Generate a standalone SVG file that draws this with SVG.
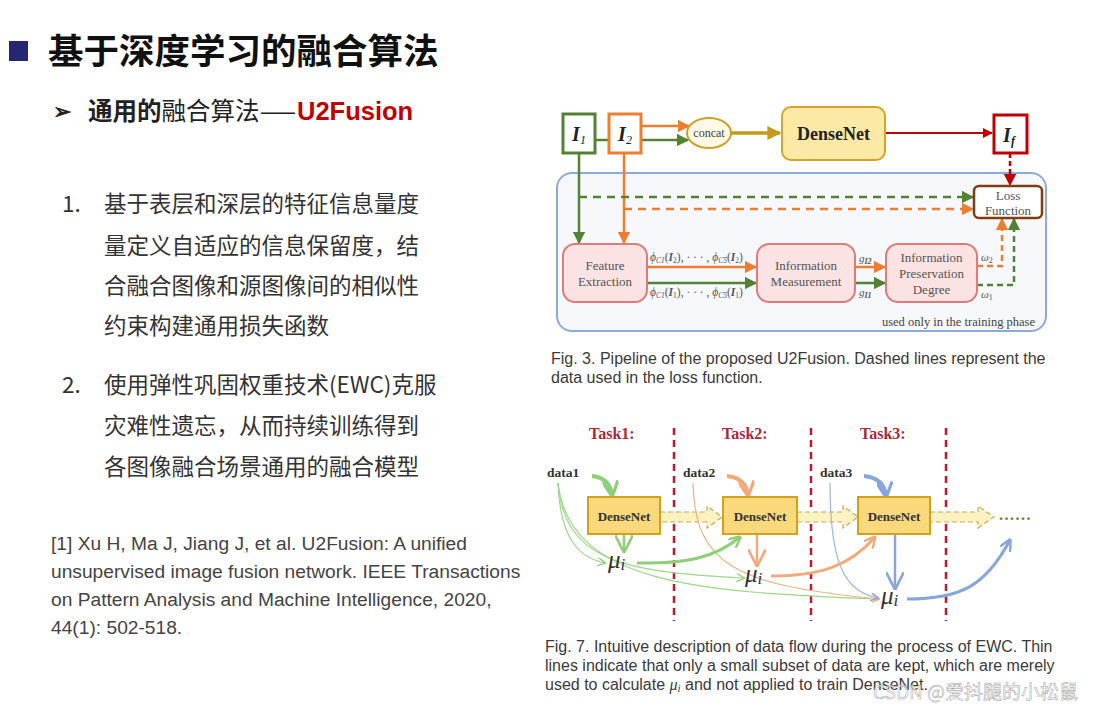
<svg xmlns="http://www.w3.org/2000/svg" width="1100" height="712" viewBox="0 0 1100 712">
<style>
.cjk{font-family:"Noto Sans CJK SC","Liberation Sans",sans-serif}
.sans{font-family:"Liberation Sans","Noto Sans CJK SC",sans-serif}
.serif{font-family:"Liberation Serif",serif}
.body{font-size:22.5px;fill:#333}
.ref{font-size:19.2px;fill:#444}
.cap{font-size:16px;fill:#3a3a3a}
.boxlbl{font-size:13px;fill:#555;text-anchor:middle}
.pink{fill:#fbe3e3;stroke:#e07b7b;stroke-width:2}
.dn{fill:#f9d97c;stroke:#d4a21a;stroke-width:2}
.task{font-size:16px;font-weight:bold;fill:#a8283a}
.data{font-size:13.5px;font-weight:bold;fill:#333}
.mu{font-size:25px;font-style:italic;fill:#333}
.vdash{stroke:#c0182f;stroke-width:2.5;stroke-dasharray:7,5;fill:none}
.fat{fill:#fdf2c2;stroke:#c8aa55;stroke-width:1.2;stroke-dasharray:5,3}
.sub{font-size:7.5px}
</style>
<defs>
<marker id="aG" viewBox="0 0 10 10" refX="9" refY="5" markerWidth="5" markerHeight="5" orient="auto"><path d="M0,0L10,5L0,10z" fill="#548235"/></marker>
<marker id="aO" viewBox="0 0 10 10" refX="9" refY="5" markerWidth="5" markerHeight="5" orient="auto"><path d="M0,0L10,5L0,10z" fill="#ed7d31"/></marker>
<marker id="aR" viewBox="0 0 10 10" refX="9" refY="5" markerWidth="5" markerHeight="5" orient="auto"><path d="M0,0L10,5L0,10z" fill="#c00000"/></marker>
<marker id="aY" viewBox="0 0 10 10" refX="9" refY="5" markerWidth="4" markerHeight="4" orient="auto"><path d="M0,0L10,5L0,10z" fill="#c49a1c"/></marker>
<marker id="aLG" viewBox="0 0 10 10" refX="9" refY="5" markerWidth="4" markerHeight="4" orient="auto"><path d="M0,0L10,5L0,10" fill="none" stroke="#8fcf78" stroke-width="2"/></marker>
<marker id="aLGt" viewBox="0 0 10 10" refX="9" refY="5" markerWidth="7" markerHeight="7" orient="auto"><path d="M0,0L10,5L0,10" fill="none" stroke="#8fcf78" stroke-width="1.5"/></marker>
<marker id="aLO" viewBox="0 0 10 10" refX="9" refY="5" markerWidth="4" markerHeight="4" orient="auto"><path d="M0,0L10,5L0,10" fill="none" stroke="#f2aa7a" stroke-width="2"/></marker>
<marker id="aLOt" viewBox="0 0 10 10" refX="9" refY="5" markerWidth="7" markerHeight="7" orient="auto"><path d="M0,0L10,5L0,10" fill="none" stroke="#f2aa7a" stroke-width="1.5"/></marker>
<marker id="aB" viewBox="0 0 10 10" refX="9" refY="5" markerWidth="4" markerHeight="4" orient="auto"><path d="M0,0L10,5L0,10" fill="none" stroke="#86a6dc" stroke-width="2"/></marker>
<marker id="aBt" viewBox="0 0 10 10" refX="9" refY="5" markerWidth="7" markerHeight="7" orient="auto"><path d="M0,0L10,5L0,10" fill="none" stroke="#86a6dc" stroke-width="1.5"/></marker>
</defs>
<rect width="1100" height="712" fill="#ffffff"/>

<!-- Left text -->
<g id="title">
<rect x="9" y="41" width="19" height="20" fill="#262673"/>
<text x="48" y="64" class="cjk" font-size="35.5" font-weight="bold" fill="#111">基于深度学习的融合算法</text>
</g>
<g id="subtitle">
<text x="53" y="119" class="cjk" font-size="22" font-weight="bold" fill="#222">➢</text>
<text x="88" y="120" class="cjk" font-size="24.5" fill="#222"><tspan font-weight="bold">通用的</tspan>融合算法</text>
<text x="259" y="120" class="cjk" font-size="24.5" fill="#222" textLength="38" lengthAdjust="spacingAndGlyphs">—</text>
<text x="297" y="120" class="sans" font-size="25.5" font-weight="bold" fill="#c00000">U2Fusion</text>
</g>
<g id="list" class="cjk body">
<text x="62" y="212">1.</text>
<text x="104" y="212">基于表层和深层的特征信息量度</text>
<text x="104" y="254">量定义自适应的信息保留度，结</text>
<text x="104" y="294">合融合图像和源图像间的相似性</text>
<text x="104" y="334">约束构建通用损失函数</text>
<text x="62" y="393">2.</text>
<text x="104" y="393">使用弹性巩固权重技术(EWC)克服</text>
<text x="104" y="434">灾难性遗忘，从而持续训练得到</text>
<text x="104" y="475">各图像融合场景通用的融合模型</text>
</g>
<g id="reference" class="sans ref">
<text x="51" y="550">[1] Xu H, Ma J, Jiang J, et al. U2Fusion: A unified</text>
<text x="51" y="578">unsupervised image fusion network. IEEE Transactions</text>
<text x="51" y="606">on Pattern Analysis and Machine Intelligence, 2020,</text>
<text x="51" y="634">44(1): 502-518.</text>
</g>

<!-- Fig 3 -->
<g id="container">
<rect x="557" y="173" width="489" height="158" rx="15" fill="#f6f8fc" stroke="#8eaadb" stroke-width="2"/>
<text x="1035" y="326" class="serif" font-size="12.5" fill="#444" text-anchor="end">used only in the training phase</text>
</g>
<g id="fig3-connectors" fill="none">
<path d="M595,140 L688,140" stroke="#548235" stroke-width="2.5" marker-end="url(#aG)"/>
<path d="M641,126 L689,126" stroke="#ed7d31" stroke-width="2.5" marker-end="url(#aO)"/>
<path d="M731,133 L780,133" stroke="#c49a1c" stroke-width="3.5" marker-end="url(#aY)"/>
<path d="M885,133 L992,133" stroke="#c00000" stroke-width="2" marker-end="url(#aR)"/>
<path d="M1010,153 L1010,185" stroke="#c00000" stroke-width="2.5" stroke-dasharray="5,3" marker-end="url(#aR)"/>
<path d="M579,153 L579,243" stroke="#548235" stroke-width="2.5" marker-end="url(#aG)"/>
<path d="M624,153 L624,243" stroke="#ed7d31" stroke-width="2.5" marker-end="url(#aO)"/>
<path d="M579,197 L973,197" stroke="#548235" stroke-width="2.5" stroke-dasharray="8,6" marker-end="url(#aG)"/>
<path d="M624,209 L973,209" stroke="#ed7d31" stroke-width="2.5" stroke-dasharray="8,6" marker-end="url(#aO)"/>
<path d="M647,267 L756,267" stroke="#ed7d31" stroke-width="2.5" marker-end="url(#aO)"/>
<path d="M647,283 L756,283" stroke="#548235" stroke-width="2.5" marker-end="url(#aG)"/>
<path d="M855,267 L885,267" stroke="#ed7d31" stroke-width="2.5" marker-end="url(#aO)"/>
<path d="M855,283 L885,283" stroke="#548235" stroke-width="2.5" marker-end="url(#aG)"/>
<path d="M977,266 L1002,266 L1002,219" stroke="#ed7d31" stroke-width="2.5" stroke-dasharray="6,4" marker-end="url(#aO)"/>
<path d="M977,285 L1014,285 L1014,219" stroke="#548235" stroke-width="2.5" stroke-dasharray="6,4" marker-end="url(#aG)"/>
</g>
<g id="I1">
<rect x="563" y="114" width="32" height="39" fill="#fff" stroke="#548235" stroke-width="3"/>
<text x="579" y="141" class="serif" font-size="20" font-weight="bold" font-style="italic" fill="#222" text-anchor="middle">I<tspan font-size="12" dy="3" font-weight="normal">1</tspan></text>
</g>
<g id="I2">
<rect x="609" y="114" width="32" height="39" fill="#fff" stroke="#ed7d31" stroke-width="3"/>
<text x="625" y="141" class="serif" font-size="20" font-weight="bold" font-style="italic" fill="#222" text-anchor="middle">I<tspan font-size="12" dy="3" font-weight="normal">2</tspan></text>
</g>
<g id="concat">
<ellipse cx="709" cy="133" rx="22" ry="15" fill="#fff9e6" stroke="#c9a227" stroke-width="2"/>
<text x="709" y="137" class="serif" font-size="12" fill="#444" text-anchor="middle">concat</text>
</g>
<g id="densenet-main">
<rect x="782" y="107" width="103" height="53" rx="9" fill="#fde9a6" stroke="#d4a52a" stroke-width="2"/>
<text x="833.5" y="140" class="serif" font-size="18" font-weight="bold" fill="#222" text-anchor="middle">DenseNet</text>
</g>
<g id="If">
<rect x="994" y="115" width="33" height="38" fill="#fff" stroke="#c00000" stroke-width="3"/>
<text x="1009" y="142" class="serif" font-size="20" font-weight="bold" font-style="italic" fill="#222" text-anchor="middle">I<tspan font-size="12" dy="3">f</tspan></text>
</g>
<g id="loss">
<rect x="974" y="186" width="68" height="32" rx="5" fill="#fff" stroke="#843c0c" stroke-width="2.5"/>
<text x="1008" y="200" class="serif boxlbl" font-size="12">Loss</text>
<text x="1008" y="215" class="serif boxlbl" font-size="12">Function</text>
</g>
<g id="feature-extraction">
<rect x="563" y="244" width="84" height="58" rx="12" class="pink"/>
<text x="605" y="270" class="serif boxlbl">Feature</text>
<text x="605" y="286" class="serif boxlbl">Extraction</text>
</g>
<g id="information-measurement">
<rect x="757" y="244" width="98" height="58" rx="12" class="pink"/>
<text x="806" y="270" class="serif boxlbl">Information</text>
<text x="806" y="286" class="serif boxlbl">Measurement</text>
</g>
<g id="information-preservation">
<rect x="886" y="244" width="91" height="58" rx="12" class="pink"/>
<text x="931.5" y="262" class="serif boxlbl">Information</text>
<text x="931.5" y="278" class="serif boxlbl">Preservation</text>
<text x="931.5" y="294" class="serif boxlbl">Degree</text>
</g>
<g id="fig3-labels" class="serif" fill="#555">
<text x="650" y="261" font-size="11.5" font-style="italic">ϕ<tspan class="sub" dy="2">C1</tspan><tspan dy="-2" font-style="normal">(</tspan><tspan font-weight="bold">I</tspan><tspan class="sub" dy="2" font-style="normal">2</tspan><tspan dy="-2" font-style="normal">), · · · , </tspan>ϕ<tspan class="sub" dy="2">C5</tspan><tspan dy="-2" font-style="normal">(</tspan><tspan font-weight="bold">I</tspan><tspan class="sub" dy="2" font-style="normal">2</tspan><tspan dy="-2" font-style="normal">)</tspan></text>
<text x="650" y="296" font-size="11.5" font-style="italic">ϕ<tspan class="sub" dy="2">C1</tspan><tspan dy="-2" font-style="normal">(</tspan><tspan font-weight="bold">I</tspan><tspan class="sub" dy="2" font-style="normal">1</tspan><tspan dy="-2" font-style="normal">), · · · , </tspan>ϕ<tspan class="sub" dy="2">C5</tspan><tspan dy="-2" font-style="normal">(</tspan><tspan font-weight="bold">I</tspan><tspan class="sub" dy="2" font-style="normal">1</tspan><tspan dy="-2" font-style="normal">)</tspan></text>
<text x="859" y="262" font-size="11" font-style="italic">g<tspan font-size="8" dy="2" font-weight="bold">I2</tspan></text>
<text x="859" y="296" font-size="11" font-style="italic">g<tspan font-size="8" dy="2" font-weight="bold">I1</tspan></text>
<text x="981" y="261" font-size="11" font-style="italic">ω<tspan font-size="8" dy="2" font-style="normal">2</tspan></text>
<text x="981" y="298" font-size="11" font-style="italic">ω<tspan font-size="8" dy="2" font-style="normal">1</tspan></text>
</g>
<g id="fig3-caption" class="sans cap">
<text x="551" y="364">Fig. 3. Pipeline of the proposed U2Fusion. Dashed lines represent the</text>
<text x="551" y="383">data used in the loss function.</text>
</g>

<!-- Fig 7 -->
<g id="fig7-dividers">
<line x1="674" y1="428" x2="674" y2="621" class="vdash"/>
<line x1="811" y1="428" x2="811" y2="621" class="vdash"/>
<line x1="946" y1="428" x2="946" y2="621" class="vdash"/>
</g>
<g id="fig7-labels" class="serif">
<text x="589" y="439" class="task">Task1:</text>
<text x="722" y="439" class="task">Task2:</text>
<text x="860" y="439" class="task">Task3:</text>
<text x="547" y="477" class="data">data1</text>
<text x="683" y="477" class="data">data2</text>
<text x="820" y="477" class="data">data3</text>
</g>
<g id="fig7-fat-arrows">
<path d="M660,512 L707,512 L707,506 L722,517 L707,528 L707,522 L660,522 Z" class="fat"/>
<path d="M797,512 L843,512 L843,506 L858,517 L843,528 L843,522 L797,522 Z" class="fat"/>
<path d="M930,512 L978,512 L978,506 L994,517 L978,528 L978,522 L930,522 Z" class="fat"/>
<text x="999" y="520" class="serif" font-size="16" font-weight="bold" fill="#7d7025" letter-spacing="1.5">......</text>
</g>
<g id="fig7-connectors" fill="none">
<path d="M558,483 C560,540 580,558 605,563" stroke="#9dd78a" stroke-width="1.2" marker-end="url(#aLGt)"/>
<path d="M558,483 C565,560 620,572 744,578" stroke="#9dd78a" stroke-width="1.2" marker-end="url(#aLGt)"/>
<path d="M558,483 C570,585 700,592 879,599" stroke="#9dd78a" stroke-width="1.2"/>
<path d="M693,483 C695,565 735,585 879,599" stroke="#f4b183" stroke-width="1.2" marker-end="url(#aLOt)"/>
<path d="M830,483 C830,565 845,592 878,598" stroke="#9cb5e2" stroke-width="1.2" marker-end="url(#aBt)"/>
<path d="M592,476 Q610,478 612,495" stroke="#8fcf78" stroke-width="4" marker-end="url(#aLG)"/>
<path d="M624,535 L624,551" stroke="#8fcf78" stroke-width="2.5" marker-end="url(#aLGt)"/>
<path d="M637,563 C685,564 715,558 740,537" stroke="#8fcf78" stroke-width="3" marker-end="url(#aLG)"/>
<path d="M727,476 Q746,478 748,495" stroke="#f2aa7a" stroke-width="4" marker-end="url(#aLO)"/>
<path d="M757,535 L757,565" stroke="#f2aa7a" stroke-width="2.5" marker-end="url(#aLOt)"/>
<path d="M771,576 C820,576 850,566 875,537" stroke="#f2aa7a" stroke-width="3" marker-end="url(#aLO)"/>
<path d="M864,476 Q884,478 886,496" stroke="#86a6dc" stroke-width="4" marker-end="url(#aB)"/>
<path d="M895,535 L895,588" stroke="#86a6dc" stroke-width="2.5" marker-end="url(#aBt)"/>
<path d="M907,599 C960,599 985,587 1010,540" stroke="#86a6dc" stroke-width="3" marker-end="url(#aB)"/>
</g>
<g id="densenet1">
<rect x="588" y="497" width="72" height="37" class="dn"/>
<text x="624" y="521" class="serif" font-size="13" font-weight="bold" fill="#333" text-anchor="middle">DenseNet</text>
</g>
<g id="densenet2">
<rect x="723" y="497" width="74" height="37" class="dn"/>
<text x="760" y="521" class="serif" font-size="13" font-weight="bold" fill="#333" text-anchor="middle">DenseNet</text>
</g>
<g id="densenet3">
<rect x="858" y="497" width="72" height="37" class="dn"/>
<text x="894" y="521" class="serif" font-size="13" font-weight="bold" fill="#333" text-anchor="middle">DenseNet</text>
</g>
<g id="mu-labels" class="serif">
<text x="608" y="568" class="mu">μ<tspan font-size="17" dy="2">i</tspan></text>
<text x="745" y="582" class="mu">μ<tspan font-size="17" dy="2">i</tspan></text>
<text x="881" y="604" class="mu">μ<tspan font-size="17" dy="2">i</tspan></text>
</g>
<g id="fig7-caption" class="sans cap">
<text x="545" y="652">Fig. 7. Intuitive description of data flow during the process of EWC. Thin</text>
<text x="545" y="671">lines indicate that only a small subset of data are kept, which are merely</text>
<text x="545" y="690">used to calculate <tspan class="serif" font-style="italic">μ<tspan font-size="11" dy="2">i</tspan></tspan><tspan dy="-2"> and not applied to train DenseNet.</tspan></text>
</g>
<g id="watermark">
<text x="873" y="699" class="cjk" font-size="19" fill="#ffffff" fill-opacity="0.7" stroke="#a0a0a0" stroke-width="0.5">CSDN @爱抖腿的小松鼠</text>
</g>
</svg>
